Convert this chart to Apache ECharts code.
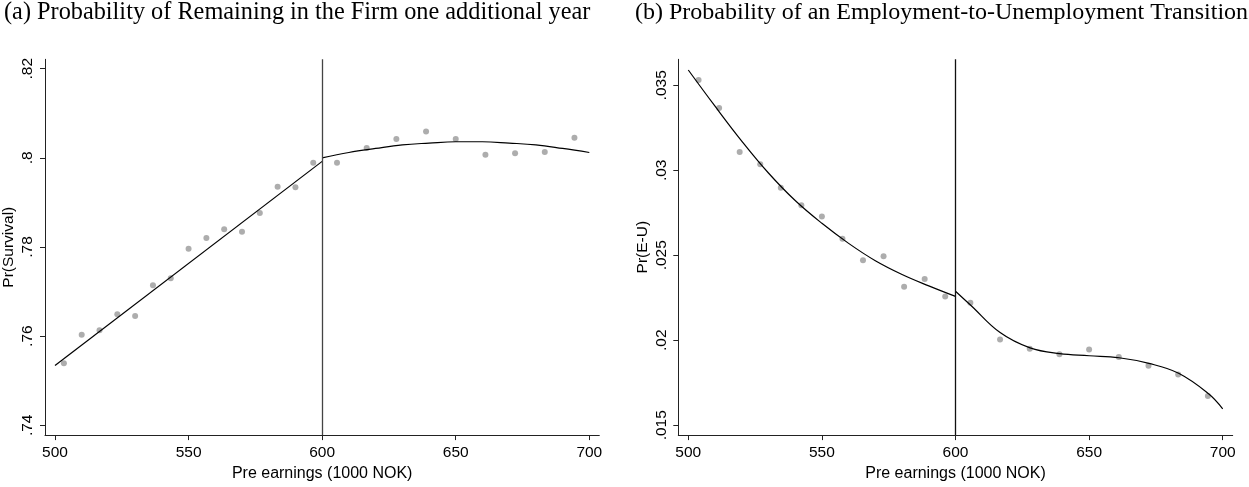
<!DOCTYPE html>
<html>
<head>
<meta charset="utf-8">
<script src="https://cdn.jsdelivr.net/npm/echarts@6/dist/echarts.min.js"></script>
<style>
html,body{margin:0;padding:0;background:#fff;}
#chart{width:1249px;height:487px;}
</style>
</head>
<body>
<div id="chart"></div>
<script>
// ---- Panel (a): Probability of remaining in the firm ----
var survXLeft  = [503.33, 510, 516.67, 523.33, 530, 536.67, 543.33, 550, 556.67, 563.33, 570, 576.67, 583.33, 590, 596.67];
var survYLeft  = [0.7539, 0.7603, 0.7613, 0.7649, 0.7645, 0.7714, 0.7730, 0.7796, 0.7820, 0.7840, 0.7834, 0.7876, 0.7935, 0.7934, 0.7989];
var survXRight = [605.56, 616.67, 627.78, 638.89, 650, 661.11, 672.22, 683.33, 694.44];
var survYRight = [0.7989, 0.8022, 0.8042, 0.8059, 0.8042, 0.8007, 0.8010, 0.8013, 0.8045];
var survFitLX  = [500, 600];
var survFitLY  = [0.7534, 0.7992];
var survFitRX  = [600, 610, 620, 630, 640, 650, 660, 670, 680, 690, 700];
var survFitRY  = [0.8000, 0.8012, 0.8021, 0.8029, 0.8033, 0.8036, 0.8036, 0.8033, 0.8029, 0.8021, 0.8012];

// ---- Panel (b): Probability of E-U transition ----
var euXLeft  = [503.85, 511.54, 519.23, 526.92, 534.62, 542.31, 550, 557.69, 565.38, 573.08, 580.77, 588.46, 596.15];
var euYLeft  = [0.03531, 0.03367, 0.03107, 0.03036, 0.02897, 0.02795, 0.02728, 0.02597, 0.02470, 0.02494, 0.02315, 0.02361, 0.02257];
var euXRight = [605.56, 616.67, 627.78, 638.89, 650, 661.11, 672.22, 683.33, 694.44];
var euYRight = [0.02220, 0.02004, 0.01950, 0.01918, 0.01946, 0.01902, 0.01850, 0.01798, 0.01672];
var euFitLX  = [500, 510, 520, 530, 540, 550, 560, 570, 580, 590, 600];
var euFitLY  = [0.03590, 0.03377, 0.03172, 0.02984, 0.02822, 0.02688, 0.02570, 0.02468, 0.02387, 0.02320, 0.02258];
var euFitRX  = [600, 605.7, 616.7, 627.9, 639, 650, 661.2, 672.4, 683.5, 694.6, 700];
var euFitRY  = [0.02288, 0.02206, 0.02045, 0.01955, 0.01921, 0.01909, 0.01897, 0.01864, 0.01806, 0.01687, 0.01597];

// ---- Ticks ----
var xTicks  = [500, 550, 600, 650, 700];
var yTicksA = [0.74, 0.76, 0.78, 0.80, 0.82];
var yTicksB = [0.015, 0.02, 0.025, 0.03, 0.035];
var cutoff  = 600;

var titleA = '(a) Probability of Remaining in the Firm one additional year';
var titleB = '(b) Probability of an Employment-to-Unemployment Transition';
var xName  = 'Pre earnings (1000 NOK)';
var yNameA = 'Pr(Survival)';
var yNameB = 'Pr(E-U)';

function zip(xs, ys){ return xs.map(function(x,i){ return [x, ys[i]]; }); }
function fmt(v){ return String(+v.toFixed(4)).replace(/^0\./, '.'); }

var sans = 'Liberation Sans';
var lblSize = 15.5;

function makeX(idx){
  return {
    gridIndex: idx, type: 'value', min: 496.26, max: 703.74,
    name: xName, nameLocation: 'middle', nameGap: 24,
    nameTextStyle: {fontFamily: sans, fontSize: 16, color: '#000'},
    axisLine: {show: true, onZero: false, lineStyle: {color: '#222', width: 1}},
    axisTick: {show: true, length: 5, customValues: xTicks, lineStyle: {color: '#222'}},
    axisLabel: {customValues: xTicks, margin: 10, fontFamily: sans, fontSize: lblSize, color: '#000'},
    splitLine: {show: false}
  };
}
function makeY(idx, mn, mx, ticks, name){
  return {
    gridIndex: idx, type: 'value', min: mn, max: mx,
    name: name, nameLocation: 'middle', nameGap: 28, nameRotate: 90,
    nameTextStyle: {fontFamily: sans, fontSize: lblSize, color: '#000'},
    axisLine: {show: true, onZero: false, lineStyle: {color: '#222', width: 1}},
    axisTick: {show: true, length: 5, customValues: ticks, lineStyle: {color: '#222'}},
    axisLabel: {customValues: ticks, rotate: 90, margin: 9, fontFamily: sans, fontSize: lblSize, color: '#000', formatter: fmt},
    splitLine: {show: false}
  };
}
function pts(idx, data){
  return {type: 'scatter', xAxisIndex: idx, yAxisIndex: idx, data: data, symbolSize: 6,
          itemStyle: {color: '#999999'}, z: 2, silent: true};
}
function fit(idx, data, smooth){
  return {type: 'line', xAxisIndex: idx, yAxisIndex: idx, data: data, showSymbol: false,
          smooth: smooth,
          lineStyle: {color: '#000', width: 1.2}, z: 3, silent: true};
}
function vline(idx, color){
  return {type: 'line', xAxisIndex: idx, yAxisIndex: idx, data: [], silent: true,
          markLine: {symbol: 'none', silent: true, label: {show: false}, animation: false,
                     lineStyle: {color: color, width: 1.3, type: 'solid'},
                     data: [{xAxis: cutoff}]}};
}

var chart = echarts.init(document.getElementById('chart'), null, {renderer: 'canvas'});
chart.setOption({
  animation: false,
  backgroundColor: '#fff',
  title: [
    {text: titleA, left: 4, top: 1, padding: 0,
     textStyle: {fontFamily: 'Liberation Serif', fontSize: 24.3, fontWeight: 'normal', color: '#000'}},
    {text: titleB, left: 635, top: 1, padding: 0,
     textStyle: {fontFamily: 'Liberation Serif', fontSize: 24, fontWeight: 'normal', color: '#000'}}
  ],
  grid: [
    {left: 44.3, top: 59.3, width: 555, height: 382.4},
    {left: 678.3, top: 59.3, width: 554.4, height: 382.4}
  ],
  xAxis: [makeX(0), makeX(1)],
  yAxis: [makeY(0, 0.7378, 0.8221, yTicksA, yNameA), makeY(1, 0.01442, 0.03653, yTicksB, yNameB)],
  series: [
    vline(0, '#444'),
    pts(0, zip(survXLeft, survYLeft)),
    pts(0, zip(survXRight, survYRight)),
    fit(0, zip(survFitLX, survFitLY), false),
    fit(0, zip(survFitRX, survFitRY), 0.4),
    vline(1, '#111'),
    pts(1, zip(euXLeft, euYLeft)),
    pts(1, zip(euXRight, euYRight)),
    fit(1, zip(euFitLX, euFitLY), 0.4),
    fit(1, zip(euFitRX, euFitRY), 0.4)
  ]
});
</script>
</body>
</html>
